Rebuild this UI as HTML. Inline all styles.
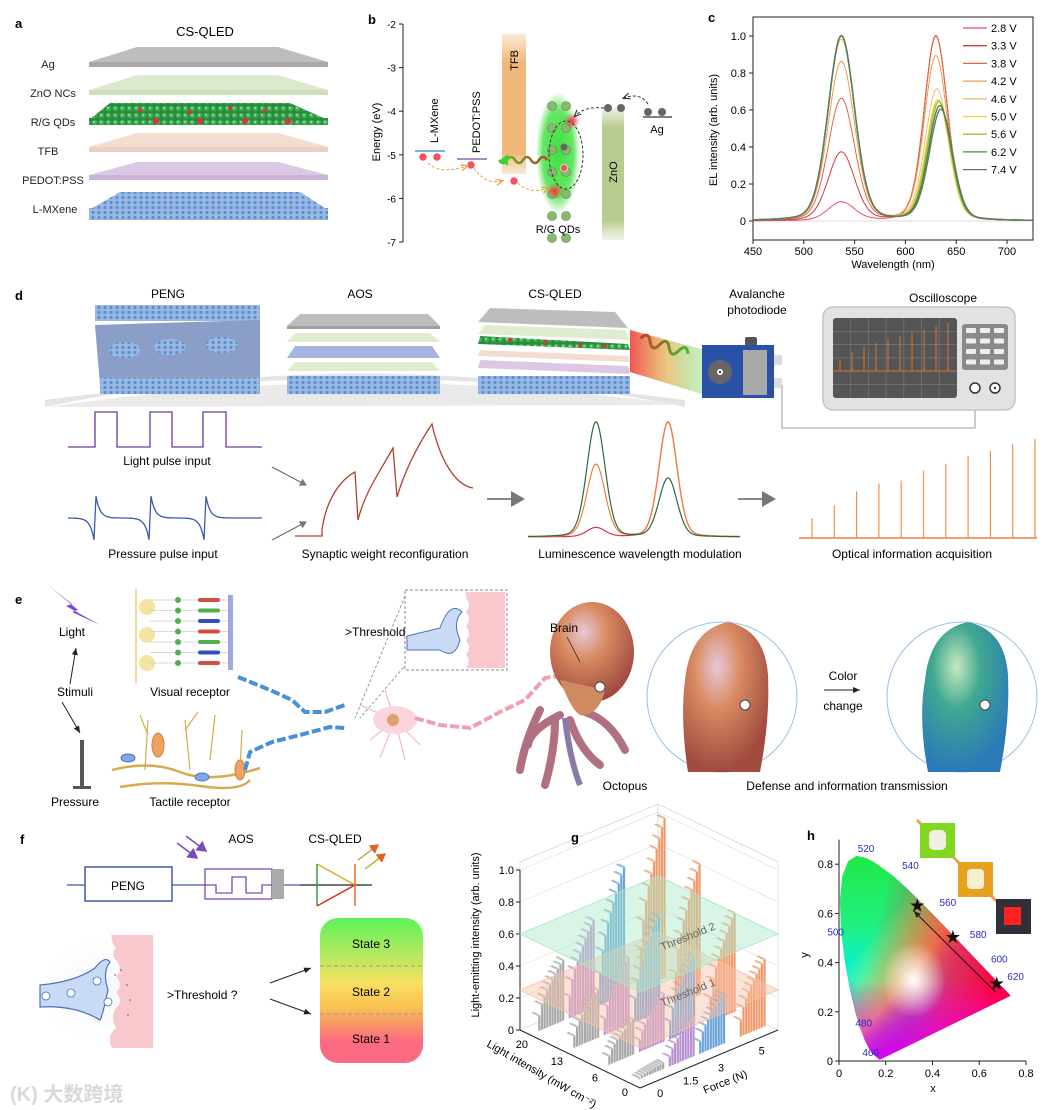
<!DOCTYPE html>
<html><head><meta charset="utf-8">
<style>
html,body{margin:0;padding:0;background:#fff;}
svg{display:block;font-family:"Liberation Sans","Noto Sans CJK SC",sans-serif;}
</style></head>
<body>
<svg id="fig" width="1056" height="1110" viewBox="0 0 1056 1110" xmlns="http://www.w3.org/2000/svg">
<defs>
  <linearGradient id="gStates" x1="0" y1="0" x2="0" y2="1">
    <stop offset="0" stop-color="#5df25a"/><stop offset="0.45" stop-color="#f8e060"/><stop offset="0.62" stop-color="#f8c050"/><stop offset="0.85" stop-color="#fa6a80"/><stop offset="1" stop-color="#fa6a80"/>
  </linearGradient>
  <linearGradient id="gBeam" x1="0" y1="0" x2="1" y2="0">
    <stop offset="0" stop-color="#f04040" stop-opacity="0.9"/><stop offset="0.5" stop-color="#e0a030" stop-opacity="0.6"/><stop offset="1" stop-color="#40d040" stop-opacity="0.3"/>
  </linearGradient>
  <linearGradient id="gWave" x1="0" y1="0" x2="1" y2="0">
    <stop offset="0" stop-color="#c0402a"/><stop offset="1" stop-color="#40c030"/>
  </linearGradient>
  <linearGradient id="gWave2" x1="1" y1="0" x2="0" y2="0">
    <stop offset="0" stop-color="#c0402a"/><stop offset="1" stop-color="#40d030"/>
  </linearGradient>
  <linearGradient id="gTFB" x1="0" y1="0" x2="0" y2="1">
    <stop offset="0" stop-color="#f3c690" stop-opacity="0.4"/><stop offset="0.2" stop-color="#f0b878"/><stop offset="0.85" stop-color="#f0b878"/><stop offset="1" stop-color="#f3c690" stop-opacity="0.4"/>
  </linearGradient>
  <linearGradient id="gZnO" x1="0" y1="0" x2="0" y2="1">
    <stop offset="0" stop-color="#c8d8a8" stop-opacity="0.4"/><stop offset="0.15" stop-color="#b8cc90"/><stop offset="0.85" stop-color="#b8cc90"/><stop offset="1" stop-color="#c8d8a8" stop-opacity="0.3"/>
  </linearGradient>
  <linearGradient id="cieV" x1="0" y1="0" x2="0" y2="1">
    <stop offset="0" stop-color="#20e840"/><stop offset="0.35" stop-color="#20f080"/><stop offset="0.62" stop-color="#00f0f0"/><stop offset="0.85" stop-color="#1060ff"/><stop offset="1" stop-color="#4010e0"/>
  </linearGradient>
  <linearGradient id="cieH" x1="0" y1="0" x2="1" y2="0.3">
    <stop offset="0.3" stop-color="#ff2060" stop-opacity="0"/><stop offset="0.75" stop-color="#ff1050" stop-opacity="0.85"/><stop offset="1" stop-color="#ff0030" stop-opacity="1"/>
  </linearGradient>
  <linearGradient id="cieY" x1="0" y1="0" x2="1" y2="1">
    <stop offset="0.3" stop-color="#ffff00" stop-opacity="0"/><stop offset="0.5" stop-color="#ffff20" stop-opacity="0.8"/><stop offset="0.62" stop-color="#ff9020" stop-opacity="0"/>
  </linearGradient>
  <linearGradient id="cieM" x1="0" y1="0" x2="0" y2="1">
    <stop offset="0.6" stop-color="#ff00ff" stop-opacity="0"/><stop offset="1" stop-color="#e000ff" stop-opacity="0.9"/>
  </linearGradient>
  <radialGradient id="cieW" cx="0.5" cy="0.5" r="0.5">
    <stop offset="0" stop-color="#fff" stop-opacity="1"/><stop offset="1" stop-color="#fff" stop-opacity="0"/>
  </radialGradient>
  <radialGradient id="qdGlow" cx="0.5" cy="0.5" r="0.5">
    <stop offset="0" stop-color="#40e040"/><stop offset="0.7" stop-color="#40e040" stop-opacity="0.8"/><stop offset="1" stop-color="#40e040" stop-opacity="0"/>
  </radialGradient>
  <radialGradient id="redGlow" cx="0.5" cy="0.5" r="0.5">
    <stop offset="0" stop-color="#ff3040"/><stop offset="1" stop-color="#ff3040" stop-opacity="0"/>
  </radialGradient>
  <radialGradient id="octoG" cx="0.4" cy="0.3" r="0.7">
    <stop offset="0" stop-color="#e8c8d8"/><stop offset="0.4" stop-color="#d88a60"/><stop offset="1" stop-color="#a04a40"/>
  </radialGradient>
  <radialGradient id="octoB" cx="0.4" cy="0.3" r="0.7">
    <stop offset="0" stop-color="#c8e8c0"/><stop offset="0.4" stop-color="#40a890"/><stop offset="1" stop-color="#2a7ab8"/>
  </radialGradient>
  <radialGradient id="bgHalo" cx="0.5" cy="0.5" r="0.5">
    <stop offset="0" stop-color="#eef2f8"/><stop offset="1" stop-color="#fff" stop-opacity="0"/>
  </radialGradient>
  <pattern id="mx" width="6" height="5" patternUnits="userSpaceOnUse">
    <rect width="6" height="5" fill="#9ab8e0"/><circle cx="3" cy="2.5" r="1.6" fill="#5a90d8"/>
  </pattern>
  <pattern id="qd" width="7" height="7" patternUnits="userSpaceOnUse">
    <rect width="7" height="7" fill="#2a8a40"/><circle cx="3.5" cy="3.5" r="2.8" fill="#3cb050"/><circle cx="3" cy="3" r="1" fill="#a8e0a0"/>
  </pattern>
  <marker id="arrBlack" markerWidth="8" markerHeight="8" refX="7" refY="4" orient="auto"><path d="M0,1 L7,4 L0,7 z" fill="#222"/></marker>
  <marker id="arrGray" markerWidth="8" markerHeight="8" refX="6" refY="4" orient="auto"><path d="M0,0 L7,4 L0,8 z" fill="#777"/></marker>
  <marker id="arrOrange" markerWidth="8" markerHeight="8" refX="6" refY="4" orient="auto"><path d="M0,1 L7,4 L0,7" fill="none" stroke="#f0a040" stroke-width="1.3"/></marker>
  <marker id="arrDark" markerWidth="8" markerHeight="8" refX="6" refY="4" orient="auto"><path d="M0,1 L7,4 L0,7" fill="none" stroke="#333" stroke-width="1.2"/></marker>
  <marker id="arrPurple" markerWidth="8" markerHeight="8" refX="6" refY="4" orient="auto"><path d="M0,0 L7,4 L0,8 z" fill="#7a4ab8"/></marker>
  <marker id="arrRG" markerWidth="8" markerHeight="8" refX="6" refY="4" orient="auto"><path d="M0,0 L7,4 L0,8 z" fill="#e06020"/></marker>
</defs>

<!-- ================= PANEL A ================= -->
<g>
  <text x="15" y="28" font-size="13" font-weight="bold">a</text>
  <text x="205" y="36" font-size="13" text-anchor="middle">CS-QLED</text>
  <g font-size="11" text-anchor="middle" fill="#222">
    <text x="48" y="68">Ag</text>
    <text x="53" y="97">ZnO NCs</text>
    <text x="53" y="126">R/G QDs</text>
    <text x="48" y="155">TFB</text>
    <text x="53" y="184">PEDOT:PSS</text>
    <text x="55" y="213">L-MXene</text>
  </g>
  <g><polygon points="137,47 278,47 328,62 89,62" fill="#bdbdbd"/><rect x="89" y="62" width="239" height="5" fill="#a8a8a8"/></g>
  <g><polygon points="137,75 278,75 328,90 89,90" fill="#dde9cf"/><rect x="89" y="90" width="239" height="5" fill="#cfdfbd"/></g>
  <g><polygon points="110,103 290,103 328,120 89,120" fill="url(#qd)"/><rect x="89" y="118" width="239" height="7" fill="url(#qd)"/>
    <circle cx="156" cy="121" r="3" fill="#e03040"/><circle cx="200" cy="121" r="3" fill="#e03040"/><circle cx="245" cy="121" r="3" fill="#e03040"/><circle cx="288" cy="121" r="3" fill="#e03040"/><circle cx="140" cy="110" r="2" fill="#e03040"/><circle cx="190" cy="112" r="2" fill="#e03040"/><circle cx="230" cy="108" r="2" fill="#e03040"/><circle cx="265" cy="111" r="2" fill="#e03040"/></g>
  <g><polygon points="137,133 278,133 328,147 89,147" fill="#f2ddd0"/><rect x="89" y="147" width="239" height="5" fill="#ead0c0"/></g>
  <g><polygon points="137,162 278,162 328,175 89,175" fill="#dcc8e2"/><rect x="89" y="175" width="239" height="5" fill="#cbb4d4"/></g>
  <g><polygon points="120,192 300,192 328,210 89,210" fill="url(#mx)"/><rect x="89" y="208" width="239" height="12" fill="url(#mx)"/></g>
</g>

<!-- ================= PANEL B ================= -->
<g id="panelB">
  <text x="368" y="24" font-size="13" font-weight="bold">b</text>
  <text transform="translate(380,132) rotate(-90)" font-size="11" text-anchor="middle">Energy (eV)</text>
  <rect x="502" y="34" width="24" height="140" fill="url(#gTFB)"/>
  <text transform="translate(518,50) rotate(-90)" font-size="11" text-anchor="end">TFB</text>
  <rect x="602" y="108" width="22" height="132" fill="url(#gZnO)"/>
  <text transform="translate(617,172) rotate(-90)" font-size="11" text-anchor="middle">ZnO</text>
  <rect x="536" y="92" width="44" height="122" rx="8" fill="url(#qdGlow)"/>
  <g id="qdDots"></g>
  <circle cx="572" cy="121" r="8" fill="url(#redGlow)"/><circle cx="555" cy="191" r="8" fill="url(#redGlow)"/>
  <ellipse cx="566" cy="155" rx="17" ry="34" fill="none" stroke="#333" stroke-dasharray="3,2"/>
  <line x1="415" y1="151" x2="445" y2="151" stroke="#4a9ad0" stroke-width="1.5"/>
  <line x1="457" y1="159" x2="487" y2="159" stroke="#8a6ab0" stroke-width="1.5"/>
  <line x1="643" y1="117" x2="672" y2="117" stroke="#333" stroke-width="1.2"/>
  <text transform="translate(438,143) rotate(-90)" font-size="11">L-MXene</text>
  <text transform="translate(480,153) rotate(-90)" font-size="11">PEDOT:PSS</text>
  <text x="657" y="133" font-size="11" text-anchor="middle">Ag</text>
  <text x="558" y="233" font-size="11" text-anchor="middle">R/G QDs</text>
  <g fill="#f05060" stroke="#fff" stroke-width="0.6">
    <circle cx="423" cy="157" r="4"/><circle cx="437" cy="157" r="4"/><circle cx="471" cy="165" r="4"/><circle cx="514" cy="181" r="4"/><circle cx="564" cy="168" r="3.5"/>
  </g>
  <g fill="#666"><circle cx="608" cy="108" r="4"/><circle cx="621" cy="108" r="4"/><circle cx="648" cy="112" r="4"/><circle cx="662" cy="112" r="4"/><circle cx="564" cy="147" r="3.5"/></g>
  <path d="M428,163 Q440,175 467,166" fill="none" stroke="#f0a040" stroke-dasharray="3,2" marker-end="url(#arrOrange)"/>
  <path d="M474,168 Q485,185 502,181" fill="none" stroke="#f0a040" stroke-dasharray="3,2" marker-end="url(#arrOrange)"/>
  <path d="M518,183 Q530,195 548,188" fill="none" stroke="#f0a040" stroke-dasharray="3,2" marker-end="url(#arrOrange)"/>
  <path d="M604,108 Q585,106 575,116" fill="none" stroke="#333" stroke-dasharray="3,2" marker-end="url(#arrDark)"/>
  <path d="M648,104 Q640,92 624,98" fill="none" stroke="#333" stroke-dasharray="3,2" marker-end="url(#arrDark)"/>
  <path d="M547,160 q-4,-6 -8,0 t-8,0 t-8,0 t-8,0 t-8,0 t-8,0" fill="none" stroke="url(#gWave2)" stroke-width="2.5"/>
  <path d="M500,160 l8,-6 l0,12 z" fill="#40d030"/>
  <g id="bAxis"></g>
</g>

<!-- ================= PANEL C ================= -->
<g id="panelC">
  <text x="708" y="22" font-size="13" font-weight="bold">c</text>
  <text transform="translate(717,130) rotate(-90)" font-size="11" text-anchor="middle">EL intensity (arb. units)</text>
  <text x="893" y="268" font-size="11" text-anchor="middle">Wavelength (nm)</text>
</g>

<!-- ================= PANEL D ================= -->
<g>
  <text x="15" y="300" font-size="13" font-weight="bold">d</text>
  <g font-size="12" text-anchor="middle">
    <text x="168" y="298">PENG</text>
    <text x="360" y="298">AOS</text>
    <text x="555" y="298">CS-QLED</text>
    <text x="757" y="298">Avalanche</text>
    <text x="757" y="314">photodiode</text>
    <text x="943" y="302">Oscilloscope</text>
  </g>
  <path d="M45,407 Q360,340 685,407 L685,400 Q360,358 45,400 Z" fill="#e4e4e4"/>
  <path d="M48,407 Q360,360 682,405" fill="#eaeaea" stroke="none"/>
  <g>
    <rect x="95" y="305" width="165" height="16" fill="url(#mx)"/>
    <polygon points="95,325 260,320 260,380 100,385" fill="#8a9ec8"/>
    <ellipse cx="125" cy="350" rx="16" ry="8" fill="url(#mx)"/><ellipse cx="170" cy="347" rx="16" ry="8" fill="url(#mx)"/><ellipse cx="222" cy="345" rx="16" ry="8" fill="url(#mx)"/>
    <rect x="100" y="378" width="160" height="16" fill="url(#mx)"/>
  </g>
  <g>
    <polygon points="300,314 428,314 440,326 287,326" fill="#bdbdbd"/><rect x="287" y="326" width="153" height="3" fill="#a0a0a0"/>
    <polygon points="295,333 430,333 440,342 287,342" fill="#dfeccf"/>
    <polygon points="295,346 432,346 440,358 287,358" fill="#a8b4e0"/>
    <polygon points="295,362 432,362 440,371 287,371" fill="#dfeccf"/>
    <rect x="287" y="376" width="153" height="18" fill="url(#mx)"/>
  </g>
  <g>
    <polygon points="490,308 615,312 628,328 478,322" fill="#bdbdbd"/>
    <polygon points="485,325 625,330 630,340 478,334" fill="#dfeccf"/>
    <polygon points="480,336 628,344 630,350 478,344" fill="url(#qd)"/>
    <circle cx="510" cy="340" r="2" fill="#e03040"/><circle cx="545" cy="342" r="2" fill="#e03040"/><circle cx="580" cy="345" r="2" fill="#e03040"/><circle cx="605" cy="346" r="2" fill="#e03040"/>
    <polygon points="480,350 628,356 630,362 478,356" fill="#f2ddd0"/>
    <polygon points="480,360 628,366 630,374 478,368" fill="#dcc8e2"/>
    <rect x="478" y="376" width="152" height="18" fill="url(#mx)"/>
  </g>
  <polygon points="630,330 705,350 705,395 630,372" fill="url(#gBeam)"/>
  <path d="M638,345 q5,-10 10,0 t10,0 t10,0 t10,0 t10,0" fill="none" stroke="url(#gWave)" stroke-width="3" transform="rotate(18 660 350)"/>
  <g>
    <rect x="745" y="337" width="12" height="9" rx="2" fill="#555"/>
    <rect x="702" y="345" width="72" height="53" fill="#2a50a8"/>
    <rect x="743" y="350" width="24" height="45" fill="#a8a8a8"/>
    <rect x="774" y="355" width="8" height="10" fill="#ddd"/><rect x="774" y="378" width="8" height="10" fill="#ddd"/>
    <circle cx="720" cy="372" r="12" fill="#666"/><circle cx="720" cy="372" r="3" fill="#fff"/><circle cx="720" cy="372" r="1.2" fill="#333"/>
  </g>
  <polyline points="782,385 782,428 975,428 975,395" fill="none" stroke="#bbb" stroke-width="1.5"/>
  <g>
    <rect x="823" y="307" width="192" height="103" rx="10" fill="#e2e2e2" stroke="#c4c4c4" stroke-width="1.5"/>
    <rect x="833" y="318" width="124" height="80" rx="3" fill="#555"/>
    <g id="oscGrid" stroke="#777" stroke-width="0.7"></g>
    <g id="oscBars"></g>
    <rect x="962" y="324" width="46" height="46" rx="3" fill="#8a8a8a"/>
    <g id="oscButtons" fill="#eee"></g>
    <circle cx="975" cy="388" r="5" fill="#fff" stroke="#333" stroke-width="1.5"/><circle cx="995" cy="388" r="5" fill="#fff" stroke="#333" stroke-width="1.5"/><circle cx="995" cy="388" r="1.2" fill="#333"/>
  </g>
  <polyline points="68,447 95,447 95,412 117,412 117,447 150,447 150,412 172,412 172,447 203,447 203,412 226,412 226,447 262,447" fill="none" stroke="#6a3a9a" stroke-width="1.3"/>
  <text x="167" y="465" font-size="12" text-anchor="middle">Light pulse input</text>
  <path id="pressureWave" fill="none" stroke="#3a5aa8" stroke-width="1.3"/>
  <text x="163" y="558" font-size="12" text-anchor="middle">Pressure pulse input</text>
  <line x1="272" y1="467" x2="306" y2="485" stroke="#666" marker-end="url(#arrGray)"/>
  <line x1="272" y1="540" x2="306" y2="522" stroke="#666" marker-end="url(#arrGray)"/>
  <path d="M295,536 L322,536 L322,530 C326,500 340,480 355,472 L358,520 C365,492 378,475 393,448 L397,497 C405,470 418,445 432,424 C440,460 455,485 473,488" fill="none" stroke="#b04030" stroke-width="1.3"/>
  <text x="385" y="558" font-size="12" text-anchor="middle">Synaptic weight reconfiguration</text>
  <line x1="487" y1="499" x2="523" y2="499" stroke="#888" stroke-width="2" marker-end="url(#arrGray)"/>
  <g id="lumCurves"></g>
  <text x="640" y="558" font-size="12" text-anchor="middle">Luminescence wavelength modulation</text>
  <line x1="738" y1="499" x2="774" y2="499" stroke="#888" stroke-width="2" marker-end="url(#arrGray)"/>
  <line x1="799" y1="538" x2="1037" y2="538" stroke="#f0a070" stroke-width="2"/>
  <g id="optBars"></g>
  <text x="912" y="558" font-size="12" text-anchor="middle">Optical information acquisition</text>
</g>

<!-- ================= PANEL E ================= -->
<g>
  <text x="15" y="604" font-size="13" font-weight="bold">e</text>
  <polygon points="48,585 78,610 72,612 100,625 66,606 72,604" fill="#7a4ad0"/>
  <text x="72" y="636" font-size="12" text-anchor="middle">Light</text>
  <text x="75" y="696" font-size="12" text-anchor="middle">Stimuli</text>
  <line x1="70" y1="684" x2="76" y2="648" stroke="#222" marker-end="url(#arrBlack)"/>
  <line x1="62" y1="702" x2="80" y2="733" stroke="#222" marker-end="url(#arrBlack)"/>
  <rect x="80" y="740" width="4" height="48" fill="#555"/><rect x="73" y="786" width="18" height="3" fill="#555"/>
  <text x="75" y="806" font-size="12" text-anchor="middle">Pressure</text>
  <g>
    <line x1="136" y1="589" x2="136" y2="683" stroke="#e8d070" stroke-width="1.5"/>
    <circle cx="147" cy="607" r="8" fill="#f4e4a0"/><circle cx="147" cy="635" r="8" fill="#f4e4a0"/><circle cx="147" cy="663" r="8" fill="#f4e4a0"/>
    <g id="visRows"></g>
    <rect x="228" y="595" width="5" height="75" fill="#a0a8e0"/>
  </g>
  <text x="190" y="696" font-size="12" text-anchor="middle">Visual receptor</text>
  <g fill="none" stroke="#d8aa50" stroke-width="2.5">
    <path d="M112,770 Q150,760 180,772 T260,768"/><path d="M120,787 Q160,780 200,786 T250,780"/>
    <path d="M145,770 L148,720 M148,735 L140,715 M190,770 L185,720 M185,730 L198,712 M210,760 L215,715 M240,770 L242,730" stroke-width="1.2"/>
    <ellipse cx="158" cy="745" rx="6" ry="12" fill="#f0a060" stroke="#d08040" stroke-width="1"/>
    <ellipse cx="240" cy="770" rx="5" ry="10" fill="#f0a060" stroke="#d08040" stroke-width="1"/>
    <ellipse cx="128" cy="758" rx="7" ry="4" fill="#80a8e0" stroke="#5070c0" stroke-width="1"/>
    <ellipse cx="202" cy="777" rx="7" ry="4" fill="#80a8e0" stroke="#5070c0" stroke-width="1"/>
  </g>
  <text x="190" y="806" font-size="12" text-anchor="middle">Tactile receptor</text>
  <polyline points="238,677 270,690 292,700 305,712 325,712 345,705" fill="none" stroke="#4a90d8" stroke-width="4" stroke-dasharray="9,3"/>
  <polyline points="245,770 250,752 272,742 300,735 330,727 345,728" fill="none" stroke="#4a90d8" stroke-width="4" stroke-dasharray="9,3"/>
  <g stroke="#f4b8c8" stroke-width="1.2" fill="none">
    <path d="M395,720 L360,705 M395,720 L370,740 M395,720 L380,758 M395,720 L405,760 M395,720 L420,745 M395,720 L385,690"/>
    <ellipse cx="395" cy="720" rx="22" ry="14" fill="#fbd4dc" stroke="none"/>
    <circle cx="393" cy="720" r="6" fill="#e0a070" stroke="none"/>
  </g>
  <polyline points="415,718 440,725 470,728 500,712 525,700 545,678 560,676" fill="none" stroke="#f0a0b0" stroke-width="4" stroke-dasharray="9,3"/>
  <text x="345" y="636" font-size="12">&gt;Threshold?</text>
  <line x1="410" y1="660" x2="360" y2="718" stroke="#999" stroke-dasharray="3,2"/><line x1="405" y1="596" x2="355" y2="718" stroke="#999" stroke-dasharray="3,2"/>
  <rect x="405" y="590" width="102" height="80" fill="#fff" stroke="#888" stroke-dasharray="3,2"/>
  <path d="M466,592 L505,592 L505,668 L466,668 q5,-8 0,-14 q6,-6 0,-14 q6,-6 0,-14 q6,-6 0,-14 q6,-6 0,-14 z" fill="#f8c8cc"/>
  <path d="M407,636 L440,628 Q450,600 462,612 Q452,622 460,640 Q455,660 440,650 L407,650 z" fill="#c8daf4" stroke="#4a70c0"/>
  <g>
    <path d="M540,710 Q525,740 520,770 M555,720 Q555,750 545,785 M570,720 Q580,750 600,765 M585,712 Q610,720 625,750 M560,715 Q530,730 528,745" stroke="#b07080" stroke-width="8" fill="none" stroke-linecap="round"/>
    <path d="M565,718 Q570,760 580,785" stroke="#8a7aa8" stroke-width="6" fill="none"/>
    <ellipse cx="592" cy="652" rx="42" ry="50" fill="url(#octoG)"/>
    <path d="M560,680 Q575,720 585,715 Q600,712 605,690" fill="#d08a60"/>
    <circle cx="600" cy="687" r="5" fill="#fff" stroke="#444"/>
  </g>
  <text x="550" y="632" font-size="12">Brain</text>
  <line x1="567" y1="637" x2="580" y2="662" stroke="#222" stroke-width="0.8"/>
  <text x="625" y="790" font-size="12" text-anchor="middle">Octopus</text>
  <g>
    <circle cx="722" cy="697" r="75" fill="#fff" stroke="#9ac0e4" stroke-width="1"/>
    <path d="M688,772 Q680,720 685,680 Q690,630 728,622 Q765,630 768,675 Q770,720 760,772 Z" fill="url(#octoG)"/>
    <circle cx="745" cy="705" r="5" fill="#fff" stroke="#444"/>
  </g>
  <text x="843" y="680" font-size="12" text-anchor="middle">Color</text>
  <line x1="824" y1="690" x2="860" y2="690" stroke="#222" marker-end="url(#arrBlack)"/>
  <text x="843" y="710" font-size="12" text-anchor="middle">change</text>
  <g>
    <circle cx="962" cy="697" r="75" fill="#fff" stroke="#9ac0e4" stroke-width="1"/>
    <path d="M928,772 Q918,720 925,680 Q930,630 968,622 Q1005,630 1008,675 Q1010,720 1000,772 Z" fill="url(#octoB)"/>
    <circle cx="985" cy="705" r="5" fill="#fff" stroke="#444"/>
  </g>
  <text x="847" y="790" font-size="12" text-anchor="middle">Defense and information transmission</text>
</g>

<!-- ================= PANEL F ================= -->
<g>
  <text x="20" y="844" font-size="13" font-weight="bold">f</text>
  <line x1="67" y1="885" x2="85" y2="885" stroke="#3a5aa8" stroke-width="1.3"/>
  <rect x="85" y="867" width="87" height="34" fill="none" stroke="#3a5aa8" stroke-width="1.5"/>
  <text x="128" y="890" font-size="12" text-anchor="middle">PENG</text>
  <line x1="172" y1="885" x2="205" y2="885" stroke="#3a5aa8" stroke-width="1.3"/>
  <rect x="205" y="869" width="67" height="30" fill="none" stroke="#7a4ab8" stroke-width="1.3"/>
  <polyline points="205,885 216,885 216,893 232,893 232,877 246,877 246,893 262,893 262,885 272,885" fill="none" stroke="#7a4ab8" stroke-width="1.3"/>
  <rect x="272" y="869" width="12" height="30" fill="#aaa"/>
  <line x1="284" y1="885" x2="300" y2="885" stroke="#7a4ab8" stroke-width="1.3"/>
  <line x1="300" y1="885" x2="372" y2="885" stroke="#222" stroke-width="1.3"/>
  <line x1="177" y1="843" x2="197" y2="858" stroke="#7a4ab8" stroke-width="1.5" marker-end="url(#arrPurple)"/>
  <line x1="186" y1="836" x2="206" y2="851" stroke="#7a4ab8" stroke-width="1.5" marker-end="url(#arrPurple)"/>
  <text x="241" y="843" font-size="12" text-anchor="middle">AOS</text>
  <text x="335" y="843" font-size="12" text-anchor="middle">CS-QLED</text>
  <g>
    <line x1="317" y1="864" x2="355" y2="885" stroke="#d8b020" stroke-width="1.5"/>
    <line x1="317" y1="864" x2="317" y2="906" stroke="#3a9a3a" stroke-width="1.5"/>
    <line x1="317" y1="906" x2="355" y2="885" stroke="#e03020" stroke-width="1.5"/>
    <line x1="355" y1="864" x2="355" y2="906" stroke="#e07020" stroke-width="1.5"/>
    <line x1="358" y1="860" x2="378" y2="845" stroke="#c0a020" stroke-width="1.3" marker-end="url(#arrRG)"/>
    <line x1="365" y1="869" x2="385" y2="854" stroke="#c0a020" stroke-width="1.3" marker-end="url(#arrRG)"/>
  </g>
  <circle cx="95" cy="990" r="60" fill="url(#bgHalo)"/>
  <path d="M112,935 L153,935 L153,1048 L112,1048 q-6,-12 4,-20 q-6,-10 0,-20 q8,-6 0,-16 q8,-6 0,-16 q8,-6 0,-16 q-6,-6 0,-12 q-6,-6 -4,-16 z" fill="#f8c8cc"/>
  <path d="M40,985 Q75,982 95,968 Q105,955 110,962 Q102,972 108,990 Q102,1018 100,1020 Q75,1005 40,1007 z" fill="#c8daf4" stroke="#4a70c0" stroke-width="1.2"/>
  <g fill="#fff" stroke="#4a70c0" stroke-width="0.8"><circle cx="46" cy="996" r="4"/><circle cx="71" cy="993" r="4"/><circle cx="97" cy="981" r="4"/><circle cx="108" cy="1002" r="4"/></g>
  <g fill="#c03040"><circle cx="115" cy="975" r="0.8"/><circle cx="121" cy="970" r="0.8"/><circle cx="127" cy="985" r="0.8"/><circle cx="130" cy="1000" r="0.8"/><circle cx="128" cy="1015" r="0.8"/></g>
  <text x="167" y="999" font-size="12">&gt;Threshold ?</text>
  <line x1="270" y1="983" x2="311" y2="968" stroke="#222" marker-end="url(#arrBlack)"/>
  <line x1="270" y1="999" x2="311" y2="1014" stroke="#222" marker-end="url(#arrBlack)"/>
  <rect x="320" y="918" width="103" height="145" rx="18" fill="url(#gStates)"/>
  <line x1="320" y1="966" x2="423" y2="966" stroke="#999" stroke-dasharray="4,3"/><line x1="320" y1="1014" x2="423" y2="1014" stroke="#999" stroke-dasharray="4,3"/>
  <g font-size="12" text-anchor="middle">
    <text x="371" y="948">State 3</text>
    <text x="371" y="996">State 2</text>
    <text x="371" y="1043">State 1</text>
  </g>
  <text x="10" y="1101" font-size="20" font-weight="bold" fill="#d8d8d8">(K) 大数跨境</text>
</g>

<!-- ================= PANEL G ================= -->
<g id="panelG">
  <text transform="translate(479,935) rotate(-90)" font-size="11" text-anchor="middle">Light-emitting intensity (arb. units)</text>
  <text transform="translate(486,1046) rotate(30)" font-size="11">Light intensity (mW cm⁻²)</text>
  <text transform="translate(705,1094) rotate(-22)" font-size="11">Force (N)</text>
</g>
<text id="gLabel" x="571" y="842" font-size="13" font-weight="bold">g</text>

<!-- ================= PANEL H ================= -->
<g id="panelH">
  <text x="807" y="840" font-size="13" font-weight="bold">h</text>
  <text transform="translate(808,955) rotate(-90)" font-size="11" text-anchor="middle">y</text>
  <text x="933" y="1092" font-size="11" text-anchor="middle">x</text>
  <line x1="917" y1="820" x2="1010" y2="915" stroke="#f0a050" stroke-width="3"/>
  <rect x="920" y="823" width="35" height="35" fill="#80d820"/><rect x="929" y="830" width="17" height="20" rx="5" fill="#f0f0e0"/>
  <rect x="958" y="862" width="35" height="35" fill="#e8a020"/><rect x="967" y="869" width="17" height="20" rx="4" fill="#f8f0d0"/>
  <rect x="996" y="899" width="35" height="35" fill="#303038"/><rect x="1004" y="907" width="17" height="18" fill="#ff2020"/>
</g>
</svg>

<script>
var NS="http://www.w3.org/2000/svg";
function mk(tag,attrs,parent){var e=document.createElementNS(NS,tag);for(var k in attrs){e.setAttribute(k,attrs[k]);}(parent||document.getElementById('fig')).appendChild(e);return e;}
</script>

<script>
/* ---------- Panel C data ---------- */
var cVoltages=["2.8 V","3.3 V","3.8 V","4.2 V","4.6 V","5.0 V","5.6 V","6.2 V","7.4 V"];
var cColors=["#e8506a","#d43a3a","#e0683a","#f09a50","#f2c070","#e8d040","#a8b840","#4a8a3a","#5a7a6a"];
var cGreenPeak=[0.10,0.37,0.66,0.86,0.98,1.0,1.0,1.0,1.0];
var cRedPeak=[1.0,1.0,1.0,0.89,0.71,0.65,0.64,0.62,0.60];
var cRedCenter=[630,630,630,630,631,632,633,634,635];
var cGreenCenter=537;
var cXTicks=[450,500,550,600,650,700];
var cYTicks=[0,0.2,0.4,0.6,0.8,1.0];
var cYTickLabels=["0","0.2","0.4","0.6","0.8","1.0"];
(function(){
  var g=document.getElementById('panelC');
  var X=function(w){return 753+(w-450)*(1007-753)/250;};
  var Y=function(v){return 221-v*185;};
  var frame=mk('rect',{x:753,y:17,width:280,height:223,fill:'none',stroke:'#222','stroke-width':1},g);
  
  
  mk('line',{x1:753,y1:Y(0),x2:1033,y2:Y(0),stroke:'#bbb','stroke-width':0.6},g);
  cXTicks.forEach(function(t){
    mk('line',{x1:X(t),y1:240,x2:X(t),y2:244,stroke:'#222'},g);
    var tx=mk('text',{x:X(t),y:255,'font-size':11,'text-anchor':'middle'},g);
    tx.textContent=String(t);
    
    
  });
  cYTicks.forEach(function(t,i){
    mk('line',{x1:749,y1:Y(t),x2:753,y2:Y(t),stroke:'#222'},g);
    var tx=mk('text',{x:746,y:Y(t)+4,'font-size':11,'text-anchor':'end'},g);
    tx.textContent=cYTickLabels[i];
    
    
  });
  function shape(d,s,gam){return 0.82*Math.exp(-(d*d)/(2*s*s))+0.18/(1+(d/gam)*(d/gam));}
  for(var i=0;i<cVoltages.length;i++){
    var pts=[];
    for(var w=450;w<=725;w+=1){
      var v=cGreenPeak[i]*shape(w-cGreenCenter,13,16)+cRedPeak[i]*shape(w-cRedCenter[i],11.5,14);
      pts.push(X(w).toFixed(1)+','+Y(v).toFixed(1));
    }
    var p=mk('polyline',{points:pts.join(' '),fill:'none',stroke:cColors[i],'stroke-width':(i>=5?1.4:1)},g);
    
    
  }
  cVoltages.forEach(function(v,i){
    var y=28+i*17.7;
    var l=mk('line',{x1:963,y1:y,x2:987,y2:y,stroke:cColors[i],'stroke-width':1.3},g);
    
    
    var t=mk('text',{x:991,y:y+4,'font-size':11},g);
    t.textContent=v;
    
    
  });
})();
</script>

<script>
/* ---------- Panel B axis ---------- */
var bTicks=[-2,-3,-4,-5,-6,-7];
(function(){
  var g=document.getElementById('bAxis');
  var Y=function(e){return 24+(-2-e)*43.6;};
  mk('line',{x1:403,y1:Y(-2),x2:403,y2:Y(-7),stroke:'#222'},g);
  bTicks.forEach(function(t){
    mk('line',{x1:399,y1:Y(t),x2:403,y2:Y(t),stroke:'#222'},g);
    var tx=mk('text',{x:396,y:Y(t)+4,'font-size':10,'text-anchor':'end'},g);
    tx.textContent=String(t);
    
    
  });
  var d=document.getElementById('qdDots');
  for(var r=0;r<7;r++){for(var c=0;c<2;c++){
    mk('circle',{cx:552+c*14,cy:106+r*22,r:4.5,fill:'#8ab870',stroke:'#5a8a40','stroke-width':0.6},d);
  }}
})();
</script>

<script>
/* ---------- Panel D pieces ---------- */
var oscPulses=[0.25,0.42,0.55,0.62,0.70,0.78,0.86,0.92,1.0,1.08];
var optPulses=[0.20,0.33,0.47,0.55,0.58,0.68,0.75,0.83,0.88,0.95,1.0];
var lumGreen=[1.0,0.51];
var lumOrange=[0.63,1.0];
var lumRed=[0.08,1.0];
(function(){
  var gg=document.getElementById('oscGrid');
  for(var i=1;i<7;i++){mk('line',{x1:833+i*17.7,y1:318,x2:833+i*17.7,y2:398},gg);}
  for(var j=1;j<6;j++){mk('line',{x1:833,y1:318+j*13.3,x2:957,y2:318+j*13.3},gg);}
  var ob=document.getElementById('oscBars');
  mk('line',{x1:834,y1:371,x2:956,y2:371,stroke:'#e07030','stroke-width':1},ob);
  oscPulses.forEach(function(v,i){
    var b=mk('line',{x1:840+i*12,y1:371,x2:840+i*12,y2:371-v*45,stroke:'#e07030','stroke-width':1},ob);
    
    
  });
  var bt=document.getElementById('oscButtons');
  for(var r=0;r<4;r++){for(var c=0;c<3;c++){mk('rect',{x:966+c*14,y:328+r*10.5,width:10,height:5,rx:1},bt);}}
  var op=document.getElementById('optBars');
  optPulses.forEach(function(v,i){
    var b=mk('line',{x1:812+i*22.3,y1:538,x2:812+i*22.3,y2:538-v*99,stroke:'#f09050','stroke-width':1.2},op);
    
    
  });
  var lc=document.getElementById('lumCurves');
  function sh(d,s){return 0.85*Math.exp(-d*d/(2*s*s))+0.15/(1+(d/(s*1.3))*(d/(s*1.3)));}
  function curve(h,col){var pts=[];for(var x=528;x<=740;x+=1){var v=h[0]*sh(x-596,9)+h[1]*sh(x-668,9);pts.push(x+','+(537-v*115).toFixed(1));}
    return mk('polyline',{points:pts.join(' '),fill:'none',stroke:col,'stroke-width':1.2},lc);}
  var a=curve(lumRed,'#e03050');
  
  
  var b2=curve(lumOrange,'#f08040');
  
  
  var c2=curve(lumGreen,'#2a6a3a');
  
  
  var pw=document.getElementById('pressureWave');var pts=[];
  var spikes=[95,150,205];
  for(var x=68;x<=262;x+=1){var v=0;spikes.forEach(function(s){var d=x-s;if(Math.abs(d)>=1){v+=(d<0?-1:1)*(-28)*Math.exp(-Math.abs(d)/4);}});
    pts.push((x===68?'M':'L')+x+','+(518+v).toFixed(1));}
  pw.setAttribute('d',pts.join(' '));
  var vr=document.getElementById('visRows');var cols=['#d05040','#50b050','#3050c0','#d05040','#50b050','#3050c0','#d05040'];
  for(var r2=0;r2<7;r2++){var y=600+r2*10.5;
    mk('line',{x1:150,y1:y,x2:228,y2:y,stroke:'#ccc','stroke-width':0.8},vr);
    mk('circle',{cx:178,cy:y,r:3,fill:'#50b050'},vr);
    mk('rect',{x:198,y:y-2,width:22,height:4,rx:2,fill:cols[r2]},vr);}
})();
</script>

<script>
/* ---------- Panel G data ---------- */
var gForces=[0,1.5,3,5];
var gForceLabels=["0","1.5","3","5"];
var gLights=[0,6,13,20];
var gLightLabels=["0","6","13","20"];
var gBlockColors=["#a8a8a8","#b890d0","#6aa4d8","#f0986a"];
var gMaxLight0=[0.04,0.25,0.31,0.42];
var gMaxLight6=[0.22,0.30,0.45,0.62];
var gMaxLight13=[0.30,0.42,0.60,0.82];
var gMaxLight20=[0.38,0.55,0.80,1.00];
var gRamp=[0.25,0.42,0.53,0.62,0.69,0.76,0.83,0.89,0.95,1.0];
var gZTicks=[0,0.2,0.4,0.6,0.8,1.0];
var gThresholds=[0.25,0.6];
(function(){
  var g=document.getElementById('panelG');
  var fmin=-0.8,fmax=6,lmin=-2,lmax=22;
  var F0=[640,1088];
  var Fv=[(778-640)/(fmax-fmin),(1030-1088)/(fmax-fmin)];
  var Lv=[(520-640)/(lmax-lmin),(1030-1088)/(lmax-lmin)];
  var Zs=160;
  function P(f,l,z){return [F0[0]+(f-fmin)*Fv[0]+(l-lmin)*Lv[0],F0[1]+(f-fmin)*Fv[1]+(l-lmin)*Lv[1]-z*Zs];}
  function pt(a){return a[0].toFixed(1)+','+a[1].toFixed(1);}
  mk('polygon',{points:[P(fmin,lmax,0),P(fmax,lmax,0),P(fmax,lmax,1.05),P(fmin,lmax,1.05)].map(pt).join(' '),fill:'#fff',stroke:'#ccc','stroke-width':0.6},g);
  mk('polygon',{points:[P(fmax,lmin,0),P(fmax,lmax,0),P(fmax,lmax,1.05),P(fmax,lmin,1.05)].map(pt).join(' '),fill:'#fff',stroke:'#ccc','stroke-width':0.6},g);
  gZTicks.forEach(function(z){
    var a=P(fmin,lmax,z),b=P(fmax,lmax,z),c=P(fmax,lmin,z);
    mk('polyline',{points:[a,b,c].map(pt).join(' '),fill:'none',stroke:'#ddd','stroke-width':0.6},g);
    mk('line',{x1:a[0],y1:a[1],x2:a[0]-4,y2:a[1],stroke:'#222'},g);
    var t=mk('text',{x:a[0]-6,y:a[1]+4,'font-size':11,'text-anchor':'end'},g);
    t.textContent=(z===0?'0':z.toFixed(1));
    
    
  });
  var za=P(fmin,lmax,0),zb=P(fmin,lmax,1.0);
  mk('line',{x1:za[0],y1:za[1],x2:zb[0],y2:zb[1],stroke:'#222'},g);
  var f1=P(fmin,lmin,0),f2=P(fmax,lmin,0),l2=P(fmin,lmax,0);
  mk('line',{x1:f1[0],y1:f1[1],x2:f2[0],y2:f2[1],stroke:'#222'},g);
  mk('line',{x1:f1[0],y1:f1[1],x2:l2[0],y2:l2[1],stroke:'#222'},g);
  gForces.forEach(function(f,i){
    var a=P(f,lmin,0);
    var t=mk('text',{x:a[0]+4,y:a[1]+16,'font-size':11,'text-anchor':'middle'},g);
    t.textContent=gForceLabels[i];
    
    
  });
  gLights.forEach(function(l,i){
    var a=P(fmin,l,0);
    var t=mk('text',{x:a[0]-2,y:a[1]+13,'font-size':11,'text-anchor':'end'},g);
    t.textContent=gLightLabels[i];
    
    
  });
  var maxRows=[gMaxLight0,gMaxLight6,gMaxLight13,gMaxLight20];
  var bw=0.13;
  for(var r=gLights.length-1;r>=0;r--){
    var l=gLights[r];
    for(var b=gForces.length-1;b>=0;b--){
      var start=gForces[b]-0.4;
      for(var k=gRamp.length-1;k>=0;k--){
        var z=maxRows[r][b]*gRamp[k];
        var f0=start+k*bw,f1b=f0+bw*0.95;
        mk('polygon',{points:[P(f0,l,z),P(f1b,l,z),P(f1b,l+1.4,z),P(f0,l+1.4,z)].map(pt).join(' '),fill:gBlockColors[b],opacity:0.75},g);
        var face=mk('polygon',{points:[P(f0,l,0),P(f1b,l,0),P(f1b,l,z),P(f0,l,z)].map(pt).join(' '),fill:gBlockColors[b],stroke:'#fff','stroke-width':0.3},g);
        
        
      }
    }
  }
  var pcol=['#f8c0a8','#a8e8c8'];
  gThresholds.forEach(function(z,i){
    var pl=mk('polygon',{points:[P(fmin,lmin,z),P(fmax,lmin,z),P(fmax,lmax,z),P(fmin,lmax,z)].map(pt).join(' '),fill:pcol[i],'fill-opacity':0.45,stroke:pcol[i],'stroke-width':0.8},g);
    
    
    var c=P(2.2,6,z);
    var t=mk('text',{x:c[0],y:c[1]+4,'font-size':11,fill:'#666',transform:'rotate(-22 '+c[0].toFixed(1)+' '+c[1].toFixed(1)+')'},g);
    t.textContent='Threshold '+(i+1);
    
    
  });
  var gl=document.getElementById('gLabel');
  document.getElementById('fig').appendChild(gl);
})();
</script>

<script>
/* ---------- Panel H data ---------- */
var hLocusX=[0.1741,0.1440,0.1241,0.1096,0.0913,0.0687,0.0454,0.0235,0.0082,0.0039,0.0139,0.0389,0.0743,0.1142,0.1547,0.2296,0.3016,0.3731,0.4441,0.5125,0.5752,0.6270,0.6658,0.6915,0.7190,0.7347];
var hLocusY=[0.0050,0.0297,0.0578,0.0868,0.1327,0.2007,0.2950,0.4127,0.5384,0.6548,0.7502,0.8120,0.8338,0.8262,0.8059,0.7543,0.6923,0.6245,0.5547,0.4866,0.4242,0.3725,0.3340,0.3083,0.2809,0.2653];
var hWaveLabels=["460","480","500","520","540","560","580","600","620"];
var hWaveLabelX=[0.10,0.07,-0.05,0.08,0.27,0.43,0.56,0.65,0.72];
var hWaveLabelY=[0.02,0.14,0.51,0.85,0.78,0.63,0.50,0.40,0.33];
var hStarX=[0.335,0.487,0.675];
var hStarY=[0.632,0.505,0.315];
var hTicks=[0,0.2,0.4,0.6,0.8];
var hTickLabels=["0","0.2","0.4","0.6","0.8"];
(function(){
  var g=document.getElementById('panelH');
  var X=function(x){return 839+x*233.75;};
  var Y=function(y){return 1061-y*246;};
  var pts=hLocusX.map(function(x,i){return X(x).toFixed(1)+','+Y(hLocusY[i]).toFixed(1);}).join(' ');
  var cp=mk('clipPath',{id:'cieClip'},g);
  mk('polygon',{points:pts},cp);
  var cg=mk('g',{'clip-path':'url(#cieClip)'},g);
  
  
  mk('rect',{x:835,y:850,width:180,height:215,fill:'url(#cieV)'},cg);
  mk('rect',{x:835,y:850,width:180,height:215,fill:'url(#cieY)'},cg);
  mk('rect',{x:835,y:850,width:180,height:215,fill:'url(#cieH)'},cg);
  mk('rect',{x:835,y:850,width:180,height:215,fill:'url(#cieM)'},cg);
  mk('ellipse',{cx:X(0.32),cy:Y(0.33),rx:32,ry:38,fill:'url(#cieW)'},cg);
  mk('line',{x1:X(0),y1:Y(0),x2:X(0.8),y2:Y(0),stroke:'#222'},g);
  mk('line',{x1:X(0),y1:Y(0),x2:X(0),y2:Y(0.9),stroke:'#222'},g);
  hTicks.forEach(function(t,i){
    mk('line',{x1:X(t),y1:Y(0),x2:X(t),y2:Y(0)+4,stroke:'#222'},g);
    var a=mk('text',{x:X(t),y:Y(0)+16,'font-size':11,'text-anchor':'middle'},g);
    a.textContent=hTickLabels[i];
    
    
    mk('line',{x1:X(0)-4,y1:Y(t),x2:X(0),y2:Y(t),stroke:'#222'},g);
    var b=mk('text',{x:X(0)-6,y:Y(t)+4,'font-size':11,'text-anchor':'end'},g);
    b.textContent=hTickLabels[i];
    
    
  });
  hWaveLabels.forEach(function(w,i){
    var t=mk('text',{x:X(hWaveLabelX[i]),y:Y(hWaveLabelY[i]),'font-size':10,fill:'#2a2ac8'},g);
    t.textContent=w;
    
    
  });
  var ar=mk('line',{x1:X(0.67),y1:Y(0.28),x2:X(0.32),y2:Y(0.61),stroke:'#111','stroke-width':1,'marker-end':'url(#arrBlack)'},g);
  
  
  hStarX.forEach(function(x,i){
    var s=mk('text',{x:X(x),y:Y(hStarY[i])+5,'font-size':15,'text-anchor':'middle',fill:'#111'},g);
    s.textContent='★';
    
    
  });
})();
</script>
</body></html>
